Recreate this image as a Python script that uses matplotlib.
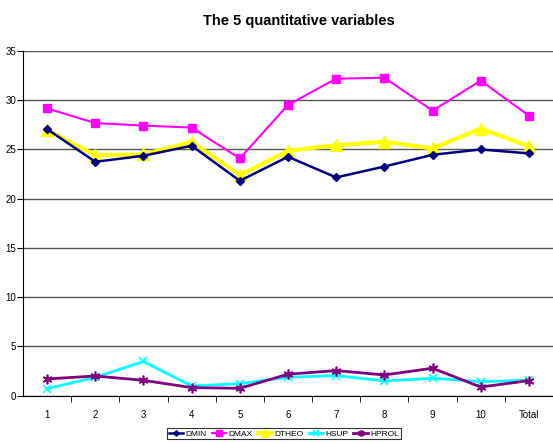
import numpy as np
import matplotlib
matplotlib.use('Agg')
from matplotlib import pyplot as plt

categorias = ['1', '2', '3', '4', '5', '6', '7', '8', '9', '10', 'Total']
dmin = [27.05, 23.73, 24.34, 25.36, 21.8, 24.24, 22.14, 23.25, 24.44, 24.98, 24.58]
dmax = [29.15, 27.66, 27.4, 27.2, 24.07, 29.5, 32.16, 32.26, 28.92, 31.96, 28.41]
dtheo = [26.95, 24.4, 24.47, 25.76, 22.37, 24.85, 25.4, 25.76, 25.08, 27.1, 25.3]
hsup = [0.71, 1.87, 3.47, 0.99, 1.22, 1.87, 2.04, 1.5, 1.77, 1.43, 1.56]
hprol = [1.7, 2.0, 1.56, 0.82, 0.75, 2.18, 2.55, 2.1, 2.79, 0.88, 1.53]

plt.rcParams['font.family'] = ['Liberation Sans', 'DejaVu Sans']

fig = plt.figure(figsize=(5.53, 4.43), dpi=100)
ax = fig.add_axes([23/553, (443-395.7)/443, 533/553, 345/443])

x = np.arange(len(categorias))
ax.plot(x, dmin, color='#000080', linewidth=1.8, marker='D', markersize=4, label='DMIN', zorder=5)
ax.plot(x, dmax, color='#FF00FF', linewidth=1.5, marker='s', markersize=6, label='DMAX', zorder=4)
ax.plot(x, dtheo, color='#FFFF00', linewidth=3, marker='^', markersize=8, label='DTHEO', zorder=4)
ax.plot(x, hsup, color='#00FFFF', linewidth=2, marker='x', markersize=6, markeredgewidth=1.2, label='HSUP', zorder=4)
ax.plot(x, hprol, color='#800080', linewidth=2, marker=(6, 2, 0), markersize=7, markeredgewidth=1.2, label='HPROL', zorder=5)

ax.set_xlim(-0.5, 10.5 + 3/48.3)
ax.set_ylim(0, 35)
ax.set_yticks(np.arange(0, 36, 5))
ax.set_xticks(x)
ax.set_xticklabels(categorias)
ax.set_xticks(np.arange(0.5, 10, 1), minor=True)
ax.tick_params(axis='x', which='major', length=0, labelsize=7, pad=10)
ax.tick_params(axis='x', which='minor', length=4, direction='out')
ax.tick_params(axis='y', length=4, direction='out', labelsize=7, pad=1)
ax.yaxis.grid(True, color='#555555', linewidth=1)
ax.set_axisbelow(True)
for lado in ['top', 'right']:
    ax.spines[lado].set_visible(False)

fig.text(0.54, 0.952, 'The 5 quantitative variables', ha='center', va='center',
         fontsize=10.5, fontweight='bold', family=['Liberation Sans Narrow', 'Liberation Sans'])

leg = fig.legend(*ax.get_legend_handles_labels(), loc='upper center',
                 bbox_to_anchor=(284/553, 1 - 428/443), ncol=5,
                 prop={'size': 6, 'family': ['Liberation Sans Narrow', 'Liberation Sans']},
                 frameon=True, fancybox=False, edgecolor='black', handlelength=1.7,
                 handletextpad=0.3, columnspacing=0.6, borderpad=0.2, borderaxespad=0,
                 markerscale=0.7)
leg.get_frame().set_linewidth(0.8)

plt.savefig('out.png', dpi=100)
